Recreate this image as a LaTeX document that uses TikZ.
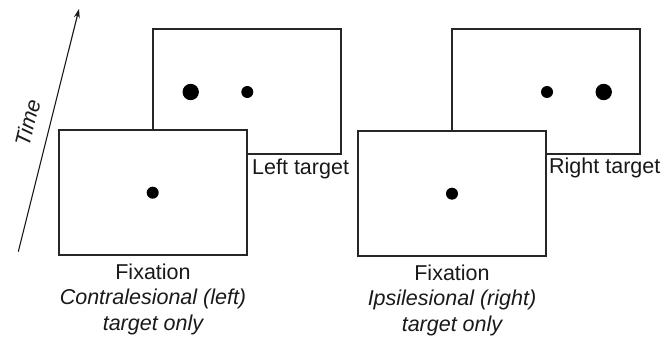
\documentclass[tikz,border=0pt]{standalone}
\usepackage{fontspec}
\setmainfont{Liberation Sans}
\usetikzlibrary{arrows.meta}
\begin{document}
\begin{tikzpicture}[x=1pt,y=-1pt,
  screen/.style={draw=black!85,line width=1.2pt,fill=white,minimum width=188pt,minimum height=125pt,inner sep=0pt},
  bigdot/.style={circle,fill=black,minimum size=16.4pt,inner sep=0pt},
  smalldot/.style={circle,fill=black,minimum size=12pt,inner sep=0pt},
  lbl/.style={font=\fontsize{21.5}{25.5}\selectfont,inner sep=0pt,text=black!90},
  ilbl/.style={lbl,font=\fontsize{21.5}{25.5}\selectfont\itshape}]
\useasboundingbox (0,0) rectangle (665,339);
% left pair
\node[screen] (lback) at (247,91.5) {};
\node[bigdot] (lbig) at (190.7,92) {};
\node[smalldot] (lsmall) at (247.3,92) {};
\node[screen] (lfront) at (153,192.5) {};
\node[smalldot] (lfix) at (152.7,192.7) {};
\node[lbl,anchor=base west] (ltarget) at (252,175) {Left target};
\node[lbl,anchor=base] (lfixation) at (153,280) {Fixation};
\node[ilbl,anchor=base] (lcond1) at (153,305) {Contralesional (left)};
\node[ilbl,anchor=base] (lcond2) at (153,331) {target only};
% right pair
\node[screen] (rback) at (546,91.5) {};
\node[smalldot] (rsmall) at (547,92) {};
\node[bigdot] (rbig) at (603.7,92) {};
\node[screen] (rfront) at (452,193.5) {};
\node[smalldot] (rfix) at (452,193.7) {};
\node[lbl,anchor=base west] (rtarget) at (549,174) {Right target};
\node[lbl,anchor=base] (rfixation) at (452,280.5) {Fixation};
\node[ilbl,anchor=base] (rcond1) at (452,305.5) {Ipsilesional (right)};
\node[ilbl,anchor=base] (rcond2) at (452,331.5) {target only};
% time arrow
\coordinate (tstart) at (18.3,251.7);
\coordinate (tend) at (79,9);
\draw[line width=1.1pt,black!90,-{Stealth[length=9pt,width=6pt]}] (tstart) -- (tend);
\node[ilbl,rotate=76] (time) at (28,123) {Time};
\end{tikzpicture}
\end{document}
